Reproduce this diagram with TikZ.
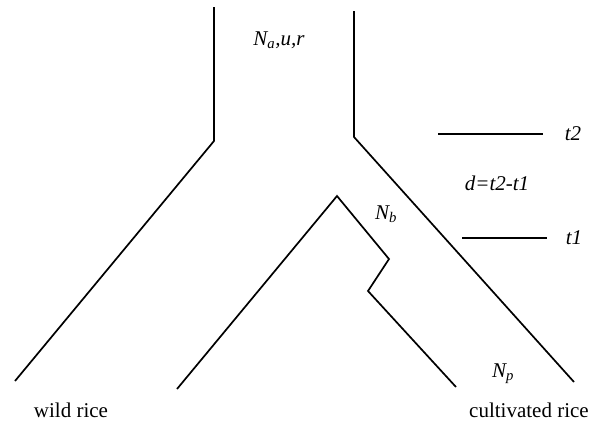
\documentclass[tikz,border=0pt]{standalone}
\usepackage{fontspec}
\setmainfont{Liberation Serif}
\begin{document}
\begin{tikzpicture}[x=1pt,y=-1pt,
  branch/.style={line width=1.7pt,line join=miter},
  tick/.style={line width=1.2pt},
  lab/.style={font=\fontsize{21}{24}\selectfont\itshape,inner sep=0pt},
  txt/.style={font=\fontsize{21}{24}\selectfont,inner sep=0pt}]
\useasboundingbox (0,0) rectangle (591,421);
% outer branches
\coordinate (lt) at (214,7);
\coordinate (lb) at (214,141);
\coordinate (le) at (15,381);
\coordinate (rt) at (354,11);
\coordinate (rb) at (354,137);
\coordinate (re) at (574,382);
\draw[branch] (lt) -- (lb) -- (le);
\draw[branch] (rt) -- (rb) -- (re);
% inner branches
\coordinate (apex) at (337,196);
\coordinate (il) at (177,389);
\coordinate (k1) at (389,259);
\coordinate (k2) at (368,291);
\coordinate (ir) at (456,387);
\draw[branch] (il) -- (apex) -- (k1) -- (k2) -- (ir);
% time markers
\coordinate (t2a) at (438,134);
\coordinate (t2b) at (543,134);
\coordinate (t1a) at (462,238);
\coordinate (t1b) at (547,238);
\draw[tick] (t2a) -- (t2b);
\draw[tick] (t1a) -- (t1b);
\node[lab] (t2) at (573,134) {t2};
\node[lab] (t1) at (574,238) {t1};
\node[lab] (d) at (497,183) {d=t2-t1};
% labels
\node[lab] (na) at (279,40) {N\textsubscript{a},u,r};
\node[lab] (nb) at (386,214) {N\textsubscript{b}};
\node[lab] (np) at (503,374) {N\textsubscript{p}};
\node[txt] (wild) at (71,410) {wild rice};
\node[txt] (cult) at (529,410) {cultivated rice};
\end{tikzpicture}
\end{document}
